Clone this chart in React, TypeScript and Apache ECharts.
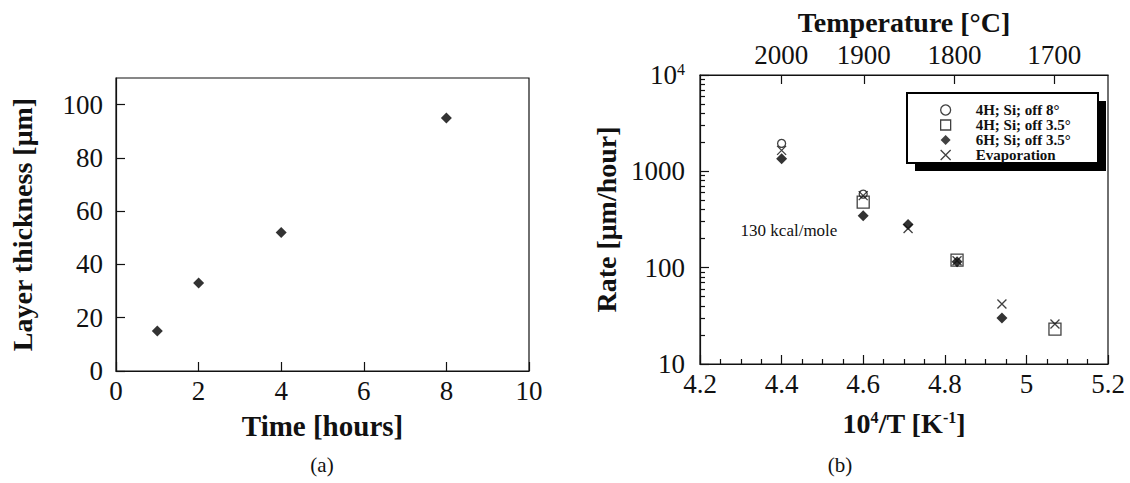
import React, { useEffect, useRef } from 'react';
import * as echarts from 'echarts';

// ---------- (a) layer thickness vs time ----------
const hours = [1, 2, 4, 8];
const thickness = [15, 33, 52, 95];
const thicknessTicks = [0, 20, 40, 60, 80, 100];

// ---------- (b) rate vs 10^4/T ----------
const temperaturesC = [2000, 1900, 1800, 1700];
const x4H8 = [4.4, 4.6];
const r4H8 = [1950, 580];
const x4H35 = [4.6, 4.83, 5.07];
const r4H35 = [480, 120, 23];
const x6H35 = [4.4, 4.6, 4.71, 4.83, 4.94];
const r6H35 = [1350, 345, 280, 115, 30];
const xEvap = [4.4, 4.6, 4.71, 4.83, 4.94, 5.07];
const rEvap = [1650, 560, 255, 118, 42, 26];
const rateMinorTicks = [20, 30, 40, 50, 60, 70, 80, 90, 200, 300, 400, 500, 600, 700, 800, 900, 2000, 3000, 4000, 5000, 6000, 7000, 8000, 9000];

const legendNames = ['4H; Si; off 8°', '4H; Si; off 3.5°', '6H; Si; off 3.5°', 'Evaporation'];

const SERIF = 'Liberation Serif';
const INK = '#111';
const line = { color: INK, width: 1.2 };
const crossPath = 'path://M0,0L10,10M10,0L0,10';
const TICK_FONT = 27;

const zip = (xs: number[], ys: number[]) => xs.map((x, i) => [x, ys[i]]);
const tempPositions = temperaturesC.map((t) => 1e4 / (t + 273.15));

function buildOption(): any {
  return {
    animation: false,
    backgroundColor: '#fff',
    textStyle: { fontFamily: SERIF },
    grid: [
      { left: 116, top: 78, width: 413, height: 293, show: true, borderColor: INK, borderWidth: 1.2 },
      { left: 700, top: 75, width: 408, height: 289, show: true, borderColor: INK, borderWidth: 1.2 },
      { left: 700, top: 75, width: 408, height: 289, show: false },
    ],
    xAxis: [
      {
        gridIndex: 0, type: 'value', min: 0, max: 10, interval: 2, position: 'bottom',
        axisLine: { show: true, onZero: false, lineStyle: line },
        axisTick: { show: true, inside: true, length: 9, lineStyle: line },
        axisLabel: { fontFamily: SERIF, fontSize: TICK_FONT, color: INK, margin: 6 },
        splitLine: { show: false },
        name: 'Time [hours]', nameLocation: 'middle', nameGap: 40,
        nameTextStyle: { fontFamily: SERIF, fontSize: 29, fontWeight: 'bold', color: INK },
      },
      {
        gridIndex: 1, type: 'value', min: 4.2, max: 5.2, interval: 0.2, position: 'bottom',
        axisLine: { show: true, onZero: false, lineStyle: line },
        axisTick: { show: true, inside: true, length: 9, lineStyle: line },
        minorTick: { show: true, splitNumber: 4, length: 5, lineStyle: line },
        axisLabel: { fontFamily: SERIF, fontSize: TICK_FONT, color: INK, margin: 6 },
        splitLine: { show: false },
        name: '{b|10}{s|4}{b|/T [K}{s|-1}{b|]}', nameLocation: 'middle', nameGap: 45,
        nameTextStyle: {
          rich: {
            b: { fontFamily: SERIF, fontSize: 28, fontWeight: 'bold', color: INK },
            s: { fontFamily: SERIF, fontSize: 16, fontWeight: 'bold', color: INK, verticalAlign: 'top' },
          },
        },
      },
      {
        gridIndex: 1, type: 'value', min: 4.2, max: 5.2, position: 'top',
        axisLine: { show: true, onZero: false, lineStyle: line },
        axisTick: { show: true, inside: true, length: 9, lineStyle: line, customValues: tempPositions },
        axisLabel: {
          fontFamily: SERIF, fontSize: TICK_FONT, color: INK, margin: 7,
          customValues: tempPositions,
          formatter: (v: number) => String(Math.round(1e4 / v - 273.15)),
        },
        splitLine: { show: false },
        name: 'Temperature [°C]', nameLocation: 'middle', nameGap: 37,
        nameTextStyle: { fontFamily: SERIF, fontSize: 28, fontWeight: 'bold', color: INK },
      },
      { gridIndex: 2, type: 'value', min: 4.2, max: 5.2, show: false },
    ],
    yAxis: [
      {
        gridIndex: 0, type: 'value', min: 0, max: 110,
        axisLine: { show: true, onZero: false, lineStyle: line },
        axisTick: { show: true, inside: true, length: 9, lineStyle: line, customValues: thicknessTicks },
        axisLabel: { fontFamily: SERIF, fontSize: TICK_FONT, color: INK, margin: 13, customValues: thicknessTicks },
        splitLine: { show: false },
        name: 'Layer thickness [μm]', nameLocation: 'middle', nameGap: 80,
        nameTextStyle: { fontFamily: SERIF, fontSize: 28, fontWeight: 'bold', color: INK },
      },
      {
        gridIndex: 1, type: 'log', logBase: 10, min: 10, max: 10000,
        axisLine: { show: true, onZero: false, lineStyle: line },
        axisTick: { show: true, inside: true, length: 9, lineStyle: line },
        axisLabel: {
          margin: 15,
          formatter: (v: number) => (v >= 9999 ? '{m|10}{s|4}' : '{m|' + v + '}'),
          rich: {
            m: { fontFamily: SERIF, fontSize: TICK_FONT, color: INK },
            s: { fontFamily: SERIF, fontSize: 16, color: INK, verticalAlign: 'top' },
          },
        },
        splitLine: { show: false },
        name: 'Rate [μm/hour]', nameLocation: 'middle', nameGap: 80,
        nameTextStyle: { fontFamily: SERIF, fontSize: 28, fontWeight: 'bold', color: INK },
      },
      {
        gridIndex: 2, type: 'log', logBase: 10, min: 10, max: 10000,
        axisLine: { show: false },
        axisLabel: { show: false },
        axisTick: { show: true, inside: true, length: 5, lineStyle: line, customValues: rateMinorTicks },
        splitLine: { show: false },
      },
    ],
    legend: {
      left: 940, top: 102.5, orient: 'vertical', padding: 0, itemGap: 0,
      itemWidth: 10, itemHeight: 10, z: 20,
      textStyle: { fontFamily: SERIF, fontSize: 15, fontWeight: 'bold', color: INK, lineHeight: 13.4, padding: [0, 0, 0, 20] },
      data: [
        { name: legendNames[0], icon: 'circle', itemStyle: { color: 'transparent', borderColor: INK, borderWidth: 1.3 } },
        { name: legendNames[1], icon: 'rect', itemStyle: { color: 'transparent', borderColor: INK, borderWidth: 1.3 } },
        { name: legendNames[2], icon: 'diamond', itemStyle: { color: INK, borderWidth: 0 } },
        { name: legendNames[3], icon: crossPath, itemStyle: { color: 'transparent', borderColor: INK, borderWidth: 1.3 } },
      ],
    },
    graphic: [
      { type: 'rect', z: 10, shape: { x: 915, y: 101, width: 191, height: 70 }, style: { fill: '#000' } },
      { type: 'rect', z: 11, shape: { x: 907, y: 93, width: 191, height: 70 }, style: { fill: '#fff', stroke: '#000', lineWidth: 2 } },
      { type: 'text', z: 12, x: 789, y: 230, style: { text: '130 kcal/mole', fontFamily: SERIF, fontSize: 17, fill: INK, align: 'center', verticalAlign: 'middle' } },
      { type: 'text', z: 12, x: 322, y: 465, style: { text: '(a)', fontFamily: SERIF, fontSize: 21, fill: INK, align: 'center', verticalAlign: 'middle' } },
      { type: 'text', z: 12, x: 840, y: 465, style: { text: '(b)', fontFamily: SERIF, fontSize: 21, fill: INK, align: 'center', verticalAlign: 'middle' } },
    ],
    series: [
      {
        type: 'scatter', xAxisIndex: 0, yAxisIndex: 0, symbol: 'diamond', symbolSize: 11,
        itemStyle: { color: '#000' }, data: zip(hours, thickness), silent: true,
      },
      {
        name: legendNames[1], type: 'scatter', xAxisIndex: 1, yAxisIndex: 1, symbol: 'rect', symbolSize: 12, z: 3,
        itemStyle: { color: 'transparent', borderColor: INK, borderWidth: 1.3 }, data: zip(x4H35, r4H35),
      },
      {
        name: legendNames[2], type: 'scatter', xAxisIndex: 1, yAxisIndex: 1, symbol: 'diamond', symbolSize: 11, z: 4,
        itemStyle: { color: '#000' }, data: zip(x6H35, r6H35),
      },
      {
        name: legendNames[3], type: 'scatter', xAxisIndex: 1, yAxisIndex: 1, symbol: crossPath, symbolSize: 9, z: 5,
        itemStyle: { color: 'transparent', borderColor: INK, borderWidth: 1.3 }, data: zip(xEvap, rEvap),
      },
      {
        name: legendNames[0], type: 'scatter', xAxisIndex: 1, yAxisIndex: 1, symbol: 'circle', symbolSize: 8, z: 6,
        itemStyle: { color: 'transparent', borderColor: INK, borderWidth: 1.3 }, data: zip(x4H8, r4H8),
      },
    ],
  };
}

export default function App() {
  const ref = useRef<HTMLDivElement>(null);
  useEffect(() => {
    if (!ref.current) return;
    const chart = echarts.init(ref.current, null, { renderer: 'svg' });
    chart.setOption(buildOption());
    return () => chart.dispose();
  }, []);
  return (
    <div
      ref={ref}
      style={{ position: 'absolute', left: 0, top: 0, width: 1130, height: 483, background: '#fff' }}
    />
  );
}
